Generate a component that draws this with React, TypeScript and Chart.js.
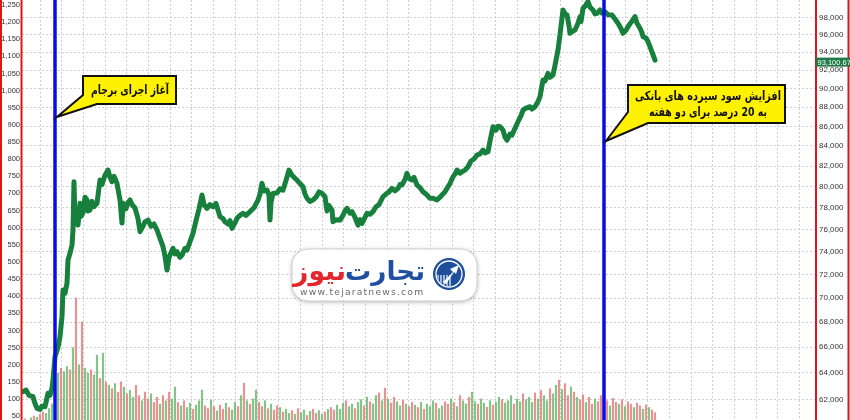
import React, { useEffect, useRef } from "react";
import { Chart, registerables } from "chart.js";

Chart.register(...registerables);

// ---- data (x = trading-day index) ----
// [day, index value]
const indexPoints: number[][] = [
  [1, 62573], [4, 62700], [7, 62300], [11, 62200], [13, 61700], [15, 61340], [18, 61260], [20, 61500], [23, 61450], [26, 62450],
  [28, 62300], [30, 62830], [31, 63450], [33, 65250], [36, 66000], [38, 66830], [40, 68500], [41, 70680], [43, 70400], [45, 71250],
  [46, 73270], [48, 73860], [50, 74600], [51, 75950], [52, 80480], [53, 76600], [55, 77170], [56, 76400], [58, 78420], [59, 77200],
  [61, 77510], [63, 79000], [65, 78730], [66, 77700], [68, 77790], [70, 78600], [72, 78100], [75, 78420], [78, 80640], [80, 80200],
  [83, 81100], [86, 81610], [88, 80900], [90, 80480], [92, 81000], [95, 80320], [98, 78730], [100, 76590], [101, 78420], [104, 77900],
  [106, 78500], [108, 78730], [110, 78300], [113, 77980], [116, 77000], [118, 75800], [121, 76300], [123, 76700], [126, 76860], [129, 76300],
  [132, 76500], [135, 75950], [138, 75200], [141, 74450], [143, 73600], [145, 72390], [147, 73500], [149, 73900], [151, 74310], [153, 73800],
  [155, 74000], [158, 73500], [160, 73700], [163, 74300], [165, 74150], [168, 74900], [171, 75650], [174, 76800], [177, 77900], [180, 79200],
  [182, 78300], [185, 77950], [188, 78300], [191, 78100], [194, 78400], [198, 77170], [201, 77000], [203, 76700], [206, 76500], [208, 76800],
  [210, 76100], [213, 76600], [215, 77020], [218, 77300], [221, 77490], [224, 77300], [228, 77640], [232, 78000], [236, 78730], [238, 79300],
  [240, 80320], [242, 79600], [245, 79670], [247, 79200], [248, 76860], [249, 78500], [251, 79360], [255, 79400], [258, 79800], [261, 79670],
  [264, 80600], [267, 81610], [270, 81100], [273, 80800], [275, 80640], [278, 80300], [281, 80000], [283, 79300], [285, 78890], [288, 78600],
  [291, 78730], [294, 79000], [297, 79500], [300, 79360], [303, 79040], [305, 77710], [307, 78200], [310, 77790], [311, 76700], [314, 76900],
  [318, 76860], [321, 77300], [323, 77700], [325, 77950], [328, 77500], [330, 77640], [333, 77100], [336, 76400], [338, 76900], [340, 76550],
  [343, 77100], [345, 77490], [348, 77400], [351, 77640], [354, 78100], [357, 78300], [361, 79040], [364, 79300], [367, 79500], [370, 79840],
  [373, 79600], [376, 79840], [378, 80200], [380, 80160], [383, 80700], [385, 81290], [387, 80800], [390, 80640], [392, 80900], [395, 80160],
  [398, 79900], [401, 79520], [404, 79300], [408, 78890], [411, 78900], [415, 78730], [418, 79000], [420, 79200], [423, 79500], [425, 79840],
  [428, 80300], [431, 80960], [433, 81200], [435, 81610], [438, 81300], [440, 81450], [443, 81600], [446, 81930], [449, 82500], [452, 82700],
  [455, 83090], [458, 83200], [461, 83590], [463, 83300], [466, 83420], [468, 84500], [471, 85960], [474, 85600], [476, 86000], [478, 85960],
  [481, 85600], [483, 84900], [485, 84590], [488, 85200], [490, 85100], [493, 85800], [496, 86480], [499, 87100], [501, 87690], [504, 87900],
  [508, 88040], [510, 87800], [513, 88040], [516, 88600], [518, 89100], [521, 90900], [523, 90800], [526, 91640], [528, 91200], [531, 91450],
  [533, 92500], [536, 94240], [538, 96000], [541, 98860], [543, 98400], [545, 98270], [547, 97000], [548, 96140], [551, 96400], [553, 96520],
  [556, 97300], [558, 98070], [559, 97500], [561, 99060], [563, 99300], [566, 99850], [568, 99200], [571, 98860], [573, 98400], [575, 98470],
  [578, 98860], [580, 98500], [583, 98660], [586, 98300], [590, 98270], [593, 97800], [596, 97300], [599, 96700], [601, 96140], [604, 96500],
  [606, 96900], [609, 97400], [611, 97700], [613, 98070], [615, 97300], [618, 96720], [620, 96200], [621, 95750], [624, 95600], [626, 95180],
  [629, 94300], [631, 93700], [633, 93100.67],
];
const lastValueLabel = "93,100.67";

// volume bars, one every `volumeStep` days starting at day 0
const volumeStep = 3;
const volumes = [
  35, 42, 38, 45, 50, 47, 55, 62, 58, 72, 85,
  120, 175, 190, 180, 195, 185, 250, 395, 200, 325, 190, 175, 185, 170, 228, 160, 234, 150, 140,
  130, 145, 120, 150, 135, 115, 125, 105, 140, 110, 95, 120, 100, 115, 90, 105,
  85, 110, 95, 120, 100, 135, 90, 80, 95, 75, 88, 70, 82, 95, 126,
  80, 72, 97, 78, 65, 82, 70, 88, 75, 68, 90, 78, 110, 146, 95, 85, 100, 126, 90, 78, 95, 72, 85, 68, 80,
  75, 62, 70, 58, 66, 55, 72, 60, 68, 52, 64, 70, 58, 66, 55, 62, 70,
  75, 68, 82, 70, 88, 95, 78, 85, 72, 90, 98, 80, 105, 92, 86, 110, 118, 95, 132, 100, 88, 105, 92, 80, 96, 85, 78, 90,
  82, 75, 90, 70, 85, 78, 95, 88, 72, 80, 92, 85, 100, 90, 78, 110, 95, 86, 105, 120, 92, 85, 100, 88, 76, 95, 82, 90, 105, 98,
  88, 95, 110, 85, 100, 92, 115, 98, 105, 90, 118, 100, 125, 110, 95, 130, 115, 140, 155, 128, 145, 110, 135, 120, 105,
  98, 112, 90, 105, 85, 100, 92, 110, 88, 95, 80, 102, 90, 85, 98, 78, 92, 85, 75, 88, 80, 70, 82, 75, 68, 60,
];
// g = up day, r = down day
const volumeDirs =
  "grggrgrrgg" + "gggrggrgrg" + "rggrggrgrg" + "rgrrgrggrr" + "grrgrrgrgr" +
  "ggrgrggrgg" + "grrgrgrrgr" + "ggrgrgrggr" + "rgrgrrgrgg" + "rgrggrgrrg" +
  "grgrrgggrg" + "grggrgrggr" + "grgrrggrgr" + "rgrgrgggrg" + "grrgrgrggr" +
  "ggrggrgrgg" + "rgggrggrgg" + "grgrggrggr" + "grrgrgrrgr" + "rgrrgrgrrg" +
  "rgrrgrrgrg" + "rr";

const leftTicks = [50, 100, 150, 200, 250, 300, 350, 400, 450, 500, 550, 600, 650, 700, 750, 800, 850, 900, 950, 1000, 1050, 1100, 1150, 1200, 1250];
const rightTicks = [62000, 64000, 66000, 68000, 70000, 72000, 74000, 76000, 78000, 80000, 82000, 84000, 86000, 88000, 90000, 92000, 94000, 96000, 98000];

const eventDays = [33, 582];
const eventTexts = [
  ["آغاز اجرای برجام"],
  ["افزایش سود سپرده های بانکی", "به 20 درصد برای دو هفته"],
];
const logoWords = ["تجارت", "نیوز"];
const logoUrl = "www.tejaratnews.com";

// axis ranges
const xMin = 0, xMax = 793;
const leftMin = 38.7, leftMax = 1264.6;
const rightMin = 60487, rightMax = 100053;
const gridStart = 18, gridStep = 21.7;

const AR = '"DejaVu Sans", sans-serif';

function fitFont(ctx: CanvasRenderingContext2D, text: string, target: number, maxSize: number, weight: string) {
  ctx.font = `${weight} 20px ${AR}`;
  const w = ctx.measureText(text).width;
  const s = Math.min(maxSize, (20 * target) / w);
  ctx.font = `${weight} ${s.toFixed(2)}px ${AR}`;
  return s;
}

// draw text at a given size, squeezed horizontally to the target width
function squeezeText(ctx: CanvasRenderingContext2D, text: string, x: number, y: number, size: number, target: number) {
  ctx.font = `bold ${size}px ${AR}`;
  const w = ctx.measureText(text).width;
  const sx = Math.min(1, target / w);
  ctx.save();
  ctx.translate(x, y);
  ctx.scale(sx, 1);
  ctx.fillText(text, 0, 0);
  ctx.restore();
}

function drawCallout(ctx: CanvasRenderingContext2D, pts: number[][], lines: string[], cx: number, ys: number[], widths: number[]) {
  ctx.save();
  ctx.beginPath();
  ctx.moveTo(pts[0][0], pts[0][1]);
  for (let i = 1; i < pts.length; i++) ctx.lineTo(pts[i][0], pts[i][1]);
  ctx.closePath();
  ctx.fillStyle = "#fff200";
  ctx.fill();
  ctx.lineWidth = 2;
  ctx.strokeStyle = "#111";
  ctx.lineJoin = "miter";
  ctx.stroke();
  ctx.fillStyle = "#111";
  ctx.direction = "rtl";
  ctx.textAlign = "center";
  ctx.textBaseline = "middle";
  lines.forEach((t, i) => squeezeText(ctx, t, cx, ys[i], 12.5, widths[i]));
  ctx.restore();
}

const overlayPlugin = {
  id: "overlay",
  beforeDraw(chart: any) {
    const { ctx, width, height } = chart;
    ctx.save();
    ctx.fillStyle = "#fff";
    ctx.fillRect(0, 0, width, height);
    ctx.restore();
  },
  afterDatasetsDraw(chart: any) {
    const { ctx, chartArea } = chart;
    const xs = chart.scales.x;
    ctx.save();
    ctx.strokeStyle = "#0b0be8";
    ctx.lineWidth = 3.5;
    eventDays.forEach((d) => {
      const px = xs.getPixelForValue(d);
      ctx.beginPath();
      ctx.moveTo(px, chartArea.top);
      ctx.lineTo(px, chartArea.bottom);
      ctx.stroke();
    });
    ctx.restore();
  },
  afterDraw(chart: any) {
    const { ctx, width, height } = chart;
    const xs = chart.scales.x;
    const yR = chart.scales.yR;

    // red axis frames
    ctx.save();
    ctx.strokeStyle = "#e01515";
    ctx.lineWidth = 2;
    [1, 21.5, 816, 848.5].forEach((x) => {
      ctx.beginPath();
      ctx.moveTo(x, 0);
      ctx.lineTo(x, height);
      ctx.stroke();
    });
    ctx.restore();

    // last value box
    const ly = yR.getPixelForValue(indexPoints[indexPoints.length - 1][1]) + 2;
    ctx.save();
    ctx.fillStyle = "#1e7a46";
    ctx.fillRect(816, ly - 4.5, width - 816, 9);
    ctx.fillStyle = "#fff";
    ctx.font = '7.5px "Liberation Sans", sans-serif';
    ctx.textBaseline = "middle";
    ctx.textAlign = "left";
    ctx.fillText(lastValueLabel, 817.5, ly + 0.5);
    ctx.restore();

    // callouts
    const t1 = xs.getPixelForValue(eventDays[0]) + 2;
    drawCallout(ctx, [[83, 76], [176, 76], [176, 104], [97, 104], [t1, 117], [83, 95]], eventTexts[0], 130, [90.5], [78]);
    const t2 = xs.getPixelForValue(eventDays[1]) + 2;
    drawCallout(ctx, [[628, 85], [785, 85], [785, 123], [648, 123], [t2, 141], [628, 112]], eventTexts[1], 708, [96.5, 113], [146, 118]);

    // logo
    ctx.save();
    ctx.beginPath();
    ctx.roundRect(292, 249, 185, 52, 16);
    ctx.shadowColor = "rgba(0,0,0,0.3)";
    ctx.shadowBlur = 5;
    ctx.shadowOffsetY = 1;
    ctx.fillStyle = "#fff";
    ctx.fill();
    ctx.shadowColor = "transparent";
    ctx.strokeStyle = "#d0d0d0";
    ctx.lineWidth = 1;
    ctx.stroke();
    // icon
    const cx = 449, cy = 274;
    ctx.beginPath();
    ctx.arc(cx, cy, 16, 0, Math.PI * 2);
    ctx.fillStyle = "#1d4f9c";
    ctx.fill();
    ctx.beginPath();
    ctx.arc(cx, cy, 13, 0, Math.PI * 2);
    ctx.strokeStyle = "#fff";
    ctx.lineWidth = 1.3;
    ctx.stroke();
    ctx.save();
    ctx.beginPath();
    ctx.arc(cx, cy, 12, 0, Math.PI * 2);
    ctx.clip();
    ctx.lineWidth = 1.2;
    for (let k = -3; k <= 5; k++) {
      ctx.beginPath();
      ctx.moveTo(cx - 14 + k * 3, cy + 1);
      ctx.lineTo(cx - 14 + k * 3, cy + 13);
      ctx.stroke();
    }
    ctx.restore();
    ctx.beginPath();
    ctx.moveTo(cx - 6, cy + 8);
    ctx.lineTo(cx + 4, cy - 2);
    ctx.lineTo(cx + 1, cy - 5);
    ctx.lineTo(cx + 10, cy - 9);
    ctx.lineTo(cx + 7, cy + 0);
    ctx.lineTo(cx + 5, cy - 2);
    ctx.lineTo(cx - 3, cy + 10);
    ctx.closePath();
    ctx.fillStyle = "#fff";
    ctx.fill();
    // words
    ctx.direction = "rtl";
    ctx.textAlign = "right";
    ctx.textBaseline = "alphabetic";
    fitFont(ctx, logoWords[0], 80, 32, "bold");
    ctx.fillStyle = "#1f4f9f";
    ctx.fillText(logoWords[0], 425, 280);
    fitFont(ctx, logoWords[1], 53, 32, "bold");
    ctx.fillStyle = "#e3262b";
    ctx.fillText(logoWords[1], 346, 280);
    ctx.direction = "ltr";
    ctx.textAlign = "left";
    ctx.fillStyle = "#6a6a6a";
    (ctx as any).letterSpacing = "1.2px";
    ctx.font = '9px "DejaVu Sans", sans-serif';
    const uw = ctx.measureText(logoUrl).width;
    const us = Math.min(11, (9 * 125) / uw);
    ctx.font = `${us.toFixed(2)}px "DejaVu Sans", sans-serif`;
    ctx.fillText(logoUrl, 300, 295);
    ctx.restore();
  },
};

export default function App() {
  const ref = useRef<HTMLCanvasElement | null>(null);

  useEffect(() => {
    if (!ref.current) return;
    Chart.defaults.font.family = '"Liberation Sans", sans-serif';
    const green = "rgba(90,178,95,0.75)";
    const red = "rgba(226,110,110,0.75)";
    const gridDays: number[] = [];
    for (let d = gridStart; d < xMax; d += gridStep) gridDays.push(d);

    const chart = new Chart(ref.current, {
      type: "bar",
      data: {
        datasets: [
          {
            type: "line",
            data: indexPoints.map(([d, v]) => ({ x: d, y: v })),
            xAxisID: "x",
            yAxisID: "yR",
            borderColor: "#17803d",
            borderWidth: 5,
            pointRadius: 0,
            tension: 0,
            borderJoinStyle: "round",
            borderCapStyle: "round",
            order: 0,
          } as any,
          {
            type: "bar",
            data: volumes.map((v, i) => ({ x: i * volumeStep, y: v })),
            xAxisID: "x",
            yAxisID: "yL",
            backgroundColor: volumes.map((_, i) => (volumeDirs[i] === "g" ? green : red)),
            barThickness: 1.5,
            grouped: false,
            order: 1,
          } as any,
        ],
      },
      options: {
        animation: false,
        responsive: false,
        events: [],
        layout: { padding: 0 },
        plugins: { legend: { display: false }, tooltip: { enabled: false } },
        scales: {
          x: {
            type: "linear",
            offset: false,
            min: xMin,
            max: xMax,
            position: "bottom",
            ticks: { display: false },
            grid: { color: "#cfcfcf", lineWidth: 1, drawTicks: false, offset: false },
            border: { display: false, dash: [2, 2] },
            afterBuildTicks: (s: any) => {
              s.ticks = gridDays.map((v) => ({ value: v }));
            },
            afterFit: (s: any) => {
              s.height = 0;
              s.paddingLeft = 0;
              s.paddingRight = 0;
            },
          },
          yL: {
            type: "linear",
            position: "left",
            min: leftMin,
            max: leftMax,
            grid: { display: false, drawTicks: false },
            border: { display: false },
            ticks: {
              color: "#333",
              font: { size: 7.5 },
              padding: 2,
              callback: (v: any) => Number(v).toLocaleString("en-US"),
            },
            afterBuildTicks: (s: any) => {
              s.ticks = leftTicks.map((v) => ({ value: v }));
            },
            afterFit: (s: any) => {
              s.width = 22;
              s.paddingTop = 0;
              s.paddingBottom = 0;
            },
          },
          yR: {
            type: "logarithmic",
            position: "right",
            min: rightMin,
            max: rightMax,
            grid: { color: "#cfcfcf", lineWidth: 1, drawTicks: false },
            border: { display: false, dash: [2, 2] },
            ticks: {
              color: "#333",
              font: { size: 8 },
              padding: 4,
              autoSkip: false,
              callback: (v: any) => Number(v).toLocaleString("en-US"),
            },
            afterBuildTicks: (s: any) => {
              s.ticks = rightTicks.map((v) => ({ value: v }));
            },
            afterFit: (s: any) => {
              s.width = 35;
              s.paddingTop = 0;
              s.paddingBottom = 0;
            },
          },
        },
      } as any,
      plugins: [overlayPlugin],
    });
    return () => chart.destroy();
  }, []);

  return (
    <div style={{ position: "fixed", left: 0, top: 0, width: 850, height: 420, background: "#fff" }}>
      <canvas ref={ref} width={850} height={420} style={{ display: "block" }} />
    </div>
  );
}
